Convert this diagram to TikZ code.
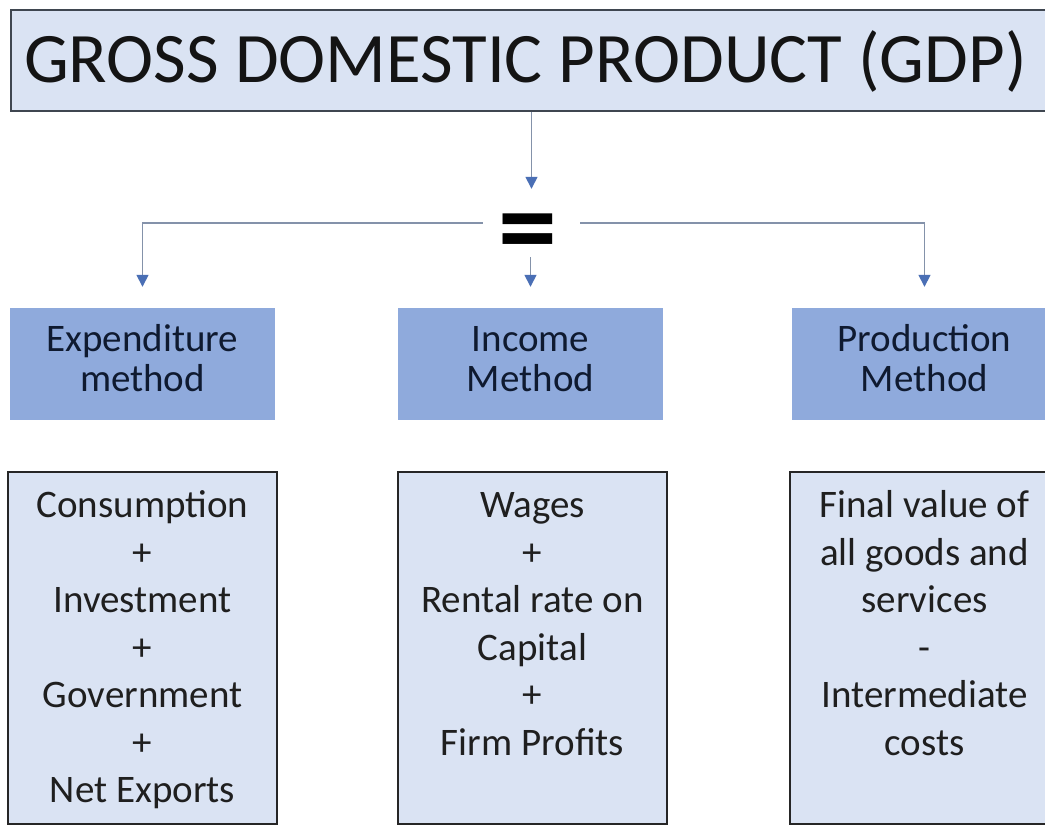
\documentclass[tikz,border=0pt]{standalone}
\usepackage{fontspec}
\setmainfont{Carlito}
\usetikzlibrary{arrows.meta}
\definecolor{lightbox}{HTML}{DAE3F3}
\definecolor{midbox}{HTML}{8FAADC}
\definecolor{linecol}{HTML}{8492AA}
\definecolor{tipcol}{HTML}{4A6FB5}
\definecolor{navytext}{HTML}{0F1A30}
\definecolor{titleborder}{HTML}{3F4650}
\begin{document}
\begin{tikzpicture}[x=1pt,y=-1pt,
  titlebox/.style={rectangle, draw=titleborder, fill=lightbox, line width=2pt,
    minimum width=1049pt, minimum height=101pt, inner sep=0pt},
  methodbox/.style={rectangle, fill=midbox, minimum width=265pt, minimum height=112pt,
    inner sep=0pt, align=center, text=navytext, font=\fontsize{39}{40}\selectfont},
  listbox/.style={rectangle, draw=black!85, fill=lightbox, line width=1.8pt,
    minimum width=269pt, minimum height=352pt, inner sep=0pt},
  listtext/.style={anchor=north, inner sep=0pt, align=center, text=black!88,
    font=\fontsize{39}{47.5}\selectfont},
  conn/.style={draw=linecol, line width=1.5pt,
    -{Triangle[length=12pt,width=12pt,color=tipcol]}},
  hub/.style={rectangle, minimum width=97pt, minimum height=68pt, inner sep=0pt}
]
\clip (0,0) rectangle (1045,826);
\fill[white] (0,0) rectangle (1045,826);

% title
\node[titlebox] (gdp) at (535.5,60.5) {};
\node[anchor=base, inner sep=0pt, font=\fontsize{71}{85}\selectfont, text=black!92] (gdptxt) at (525.5,83) {GROSS DOMESTIC PRODUCT (GDP)};

% equals hub
\node[hub] (eq) at (531.5,223) {};
\node[inner sep=0pt, font=\fontsize{118}{122}\selectfont\bfseries] (eqsign) at (527.5,240) {=};

% method boxes
\node[methodbox] (exp) at (142.5,364) {\strut Expenditure\\ method\strut};
\node[methodbox] (inc) at (530.5,364) {\strut Income\\ Method\strut};
\node[methodbox] (prod) at (924.5,364) {\strut Production\\ Method\strut};

% list boxes
\node[listbox] (expl) at (142.5,648) {};
\node[listbox] (incl) at (532.5,648) {};
\node[listbox] (prodl) at (924.5,648) {};

\node[listtext] (expt) at ([yshift=-13pt]expl.north) {\strut Consumption\\ +\\ Investment\\ +\\ Government\\ +\\ Net Exports};
\node[listtext] (inct) at ([yshift=-13pt]incl.north) {\strut Wages\\ +\\ Rental rate on\\ Capital\\ +\\ Firm Profits};
\node[listtext] (prodt) at ([yshift=-13pt]prodl.north) {\strut Final value of\\ all goods and\\ services\\ -\\ Intermediate\\ costs};

% connectors
\draw[conn] (gdp.south -| eq.north) -- (eq.north);
\draw[conn] (eq.west) -| ([yshift=21pt]exp.north);
\draw[conn] (eq.east) -| ([yshift=21pt]prod.north);
\draw[conn] (inc.north |- eq.south) -- ([yshift=21pt]inc.north);
\end{tikzpicture}
\end{document}
